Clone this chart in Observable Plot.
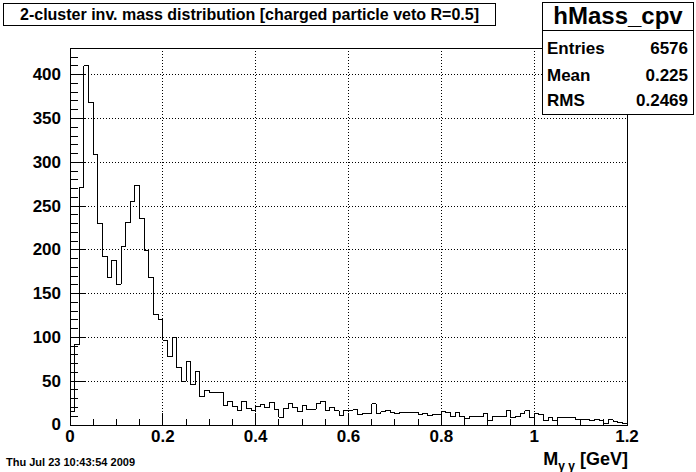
<!DOCTYPE html>
<html><head><meta charset="utf-8">
<script src="https://cdn.jsdelivr.net/npm/d3@7"></script>
<script src="https://cdn.jsdelivr.net/npm/@observablehq/plot@0.6"></script>
<style>
html,body{margin:0;padding:0;background:#fff;}
#wrap{position:relative;width:696px;height:472px;overflow:hidden;font-family:"Liberation Sans",Arial,sans-serif;font-weight:bold;color:#000;}
#wrap svg{display:block;}
.abs{position:absolute;white-space:nowrap;line-height:1;}
.box{position:absolute;border:1px solid #000;background:#fff;box-sizing:border-box;white-space:nowrap;}
</style></head><body><div id="wrap"></div>
<script>
// ---- data ----
const binWidth = 0.01;
const counts = [
  15, 92, 271, 410, 368, 309, 230, 192, 169, 188,
  161, 204, 231, 255, 274, 236, 199, 168, 126, 121,
  97, 78, 100, 66, 50, 73, 46, 61, 32, 39,
  37, 37, 37, 22, 27, 21, 17, 27, 19, 17,
  21, 23, 20, 26, 18, 9, 19, 25, 20, 15,
  22, 18, 18, 24, 27, 17, 20, 16, 11, 17,
  17, 18, 12, 13, 13, 24, 13, 15, 17, 14,
  13, 14, 14, 14, 14, 12, 13, 11, 12, 12,
  15, 14, 10, 14, 10, 7, 10, 10, 10, 13,
  5, 10, 10, 10, 17, 8, 10, 13, 16, 8,
  13, 12, 5, 8, 5, 8, 9, 8, 8, 6,
  6, 6, 5, 6, 5, 2, 6, 4, 3, 2
];
const xTickValues = [0, 0.2, 0.4, 0.6, 0.8, 1, 1.2];
const xTickLabels = ["0", "0.2", "0.4", "0.6", "0.8", "1", "1.2"];
const yTickValues = [0, 50, 100, 150, 200, 250, 300, 350, 400];
const xGridValues = [0.2, 0.4, 0.6, 0.8, 1];
const yGridValues = [50, 100, 150, 200, 250, 300, 350, 400];
const xMinorStep = 0.05;
const yMinorStep = 10;
const xDomain = [0, 1.2];
const yDomain = [0, 430.5];
const titleText = "2-cluster inv. mass distribution [charged particle veto R=0.5]";
const statsName = "hMass_cpv";
const statsLabels = ["Entries", "Mean", "RMS"];
const statsValues = ["6576", "0.225", "0.2469"];
const dateText = "Thu Jul 23 10:43:54 2009";
const xTitleMain = "M";
const xTitleSub = "\u03b3 \u03b3";
const xTitleUnit = " [GeV]";

// ---- layout ----
const W = 696, H = 472;
const mL = 69.5, mR = 69.5, mT = 47.5, mB = 47.5;
const frameW = W - mL - mR, frameH = H - mT - mB;

const pts = [{x: 0, y: 0}]
  .concat(counts.map((c, i) => ({x: i * binWidth, y: c})))
  .concat([{x: counts.length * binWidth, y: counts[counts.length - 1]}, {x: counts.length * binWidth, y: 0}]);

const xMinor = d3.range(0, Math.round((xDomain[1] - xDomain[0]) / xMinorStep) + 1).map(i => +(i * xMinorStep).toFixed(4));
const yMinor = d3.range(0, Math.floor(yDomain[1] / yMinorStep) + 1).map(i => i * yMinorStep);

const crisp = {shapeRendering: "crispEdges"};
const chart = Plot.plot({
  width: W, height: H,
  marginLeft: mL, marginRight: mR, marginTop: mT, marginBottom: mB,
  x: {domain: xDomain},
  y: {domain: yDomain},
  style: {fontFamily: "'Liberation Sans', Arial, sans-serif", fontWeight: "bold", fontSize: "17px", color: "black", background: "white"},
  marks: [
    Plot.ruleX(xGridValues, {x: d => d, stroke: "black", strokeDasharray: "1,2", strokeWidth: 1, ...crisp}),
    Plot.ruleY(yGridValues, {y: d => d, stroke: "black", strokeDasharray: "1,2", strokeWidth: 1, ...crisp}),
    Plot.tickX(xMinor, {x: d => d, stroke: "black", insetTop: frameH - 5.7, ...crisp}),
    Plot.tickX(xTickValues, {x: d => d, stroke: "black", insetTop: frameH - 11.3, ...crisp}),
    Plot.tickY(yMinor, {y: d => d, stroke: "black", insetRight: frameW - 8.4, ...crisp}),
    Plot.tickY(yTickValues, {y: d => d, stroke: "black", insetRight: frameW - 16.7, ...crisp}),
    Plot.line(pts, {x: "x", y: "y", curve: "step-after", stroke: "black", strokeWidth: 1, ...crisp}),
    Plot.frame({stroke: "black", strokeWidth: 1, ...crisp}),
    Plot.axisX({ticks: xTickValues, tickSize: 0, tickPadding: 5, fontSize: 17, fontWeight: "bold", label: null,
      tickFormat: d => xTickLabels[xTickValues.indexOf(d)]}),
    Plot.axisY({ticks: yTickValues, tickSize: 0, tickPadding: 9, fontSize: 17, fontWeight: "bold", label: null,
      tickFormat: d => String(d)})
  ]
});
const wrap = document.getElementById("wrap");
wrap.appendChild(chart);

function addEl(html, css, cls) {
  const d = document.createElement("div");
  d.className = cls || "abs";
  d.innerHTML = html;
  Object.assign(d.style, css);
  wrap.appendChild(d);
  return d;
}
// title box
addEl(titleText, {left: "3px", top: "3px", width: "493px", height: "23px", textAlign: "center", fontSize: "16px", lineHeight: "21px"}, "box");
// stats box
addEl("", {left: "542px", top: "2px", width: "152px", height: "113px"}, "box");
addEl("", {left: "542px", top: "30px", width: "152px", height: "1px", background: "#000"}, "abs");
addEl(statsName, {left: "542px", width: "152px", top: "4px", textAlign: "center", fontSize: "24px"});
const rowTops = [40, 67, 92];
statsLabels.forEach((t, i) => {
  addEl(t, {left: "547px", top: rowTops[i] + "px", fontSize: "17px"});
  addEl(statsValues[i], {right: (W - 688) + "px", top: rowTops[i] + "px", fontSize: "17px", textAlign: "right"});
});
// date
addEl(dateText, {left: "6px", top: "457px", fontSize: "11px"});
// x axis title
addEl(xTitleMain + "<span style='font-size:12px;position:relative;top:5px'>" + xTitleSub + "</span>" + xTitleUnit,
  {right: (W - 628) + "px", top: "450px", fontSize: "18px"});
</script></body></html>
